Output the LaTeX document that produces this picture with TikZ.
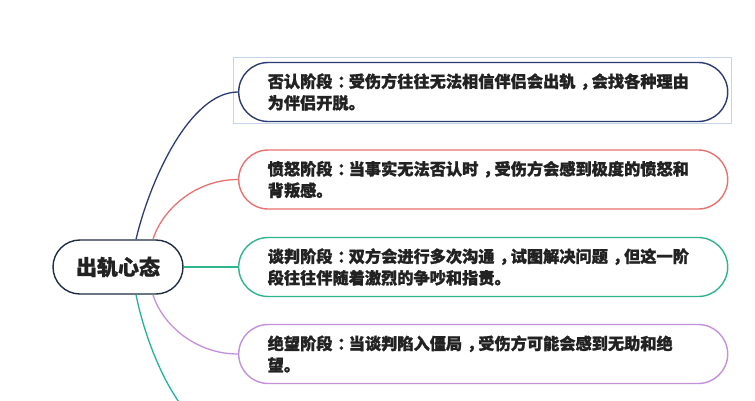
\documentclass[tikz,border=0pt]{standalone}
\usepackage{fontspec}
\newfontfamily\cjk{Noto Sans CJK SC}[BoldFeatures={FakeBold=1.2}]
\usetikzlibrary{calc}
\definecolor{cnavy}{HTML}{2C3B72}
\definecolor{cred}{HTML}{E9716F}
\definecolor{cgreen}{HTML}{2FB58E}
\definecolor{cpurple}{HTML}{C490DA}
\definecolor{cteal}{HTML}{1FB39E}
\definecolor{chub}{HTML}{1F2D44}
\definecolor{csel}{HTML}{C6D4EA}
\definecolor{ctext}{HTML}{222222}
\newcommand\cpu[1]{\makebox[1em][l]{\hspace{0.3em}#1}}
\tikzset{
  stagebox/.style={draw, line width=1.4pt, rounded corners=29.5pt,
    minimum width=489pt, minimum height=59pt, text width=431pt,
    inner xsep=29pt, inner ysep=0pt, align=left, anchor=west,
    font=\cjk\bfseries\fontsize{16.2}{21.5}\selectfont, text=ctext},
  hubbox/.style={draw=chub, line width=1.4pt, rounded corners=27pt,
    minimum width=130pt, minimum height=54pt, inner sep=0pt,
    font=\cjk\bfseries\fontsize{21}{25}\selectfont, text=ctext},
  link/.style={line width=1.3pt}
}
\begin{document}
\begin{tikzpicture}[x=1pt,y=-1pt]
\useasboundingbox (0,0) rectangle (755,400);
\clip (0,0) rectangle (755,400);
\fill[white] (0,0) rectangle (755,400);

\node[hubbox] (hub) at (118,267) {出轨心态};

\node[stagebox, draw=cnavy] (s1) at (238,92) {否认阶段\cpu{：}受伤方往往无法相信伴侣会出轨\cpu{，}会找各种理由\\为伴侣开脱。};
\node[stagebox, draw=cred] (s2) at (238,179.5) {愤怒阶段\cpu{：}当事实无法否认时\cpu{，}受伤方会感到极度的愤怒和\\背叛感。};
\node[stagebox, draw=cgreen] (s3) at (238,267) {谈判阶段\cpu{：}双方会进行多次沟通\cpu{，}试图解决问题\cpu{，}但这一阶\\段往往伴随着激烈的争吵和指责。};
\node[stagebox, draw=cpurple] (s4) at (238,354) {绝望阶段\cpu{：}当谈判陷入僵局\cpu{，}受伤方可能会感到无助和绝\\望。};
\coordinate (s5) at (238,442);

\draw[csel, line width=0.8pt] ($(s1.north west)+(-5,-4)$) rectangle ($(s1.south east)+(3,1)$);

\draw[link, cnavy] ($(hub.north)+(18,0)$) .. controls (150,180) and (190,92) .. (s1.west);
\draw[link, cred] ($(hub.north)+(35,0)$) .. controls (162,210) and (195,179.5) .. (s2.west);
\draw[link, cgreen] (hub.east) -- (s3.west);
\draw[link, cpurple] ($(hub.south)+(35,0)$) .. controls (162,324) and (195,354) .. (s4.west);
\draw[link, cteal] ($(hub.south)+(18,0)$) .. controls (148,354) and (185,442) .. (s5);
\end{tikzpicture}
\end{document}
